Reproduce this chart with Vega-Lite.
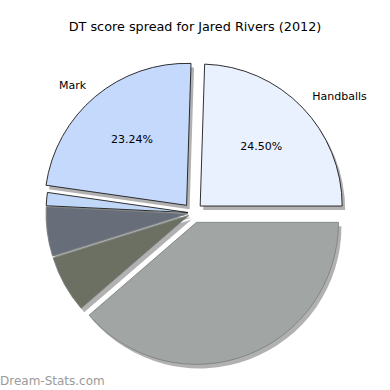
{
  "$schema": "https://vega.github.io/schema/vega-lite/v6.json",
  "padding": {"top": 21, "left": 0, "right": 0, "bottom": 0},
  "spacing": 0,
  "config": {"view": {"stroke": null}, "font": "DejaVu Sans"},
  "title": {"text": "Dream-Stats.com", "orient": "bottom", "anchor": "start", "fontSize": 12, "fontWeight": "normal", "color": "#9a9a9a", "font": "DejaVu Sans", "offset": 2},
  "datasets": {
    "slices": [
      {"cat": "Kicks", "v": 0.3866, "ord": 1},
      {"cat": "Goals", "v": 0.065, "ord": 2},
      {"cat": "Tackles", "v": 0.056, "ord": 3},
      {"cat": "Hitouts", "v": 0.015, "ord": 4},
      {"cat": "Mark", "v": 0.2324, "ord": 5},
      {"cat": "Handballs", "v": 0.245, "ord": 6}
    ]
  },
  "vconcat": [
    {
      "title": {"text": "DT score spread for Jared Rivers (2012)", "fontSize": 12.8, "fontWeight": "normal", "font": "DejaVu Sans", "color": "#000000", "anchor": "middle", "offset": 10},
      "width": 390,
      "height": 321,
      "data": {"name": "slices"},
      "encoding": {
        "theta": {"field": "v", "type": "quantitative", "stack": true, "scale": {"range": [1.5707963, 7.8539816]}},
        "order": {"field": "ord", "type": "quantitative", "sort": "ascending"}
      },
      "layer": [
        {
          "mark": {
            "type": "arc", "radius": 142, "fill": "#444444", "opacity": 0.42,
            "xOffset": {"expr": "1 + (datum.cat=='Handballs'||datum.cat=='Mark'||datum.cat=='Kicks' ? 10 : 5) * sin(PI/2 + PI*(datum.v_start+datum.v_end))"},
            "yOffset": {"expr": "12.5 - (datum.cat=='Handballs'||datum.cat=='Mark'||datum.cat=='Kicks' ? 10 : 5) * cos(PI/2 + PI*(datum.v_start+datum.v_end))"}
          }
        },
        {
          "mark": {
            "type": "arc", "radius": 142, "strokeWidth": 0.9,
            "xOffset": {"expr": "-2 + (datum.cat=='Handballs'||datum.cat=='Mark'||datum.cat=='Kicks' ? 10 : 5) * sin(PI/2 + PI*(datum.v_start+datum.v_end))"},
            "yOffset": {"expr": "8.5 - (datum.cat=='Handballs'||datum.cat=='Mark'||datum.cat=='Kicks' ? 10 : 5) * cos(PI/2 + PI*(datum.v_start+datum.v_end))"}
          },
          "encoding": {
            "color": {"field": "cat", "type": "nominal", "legend": null,
              "scale": {"domain": ["Kicks", "Goals", "Tackles", "Hitouts", "Mark", "Handballs"],
                        "range": ["#a1a6a5", "#6b7063", "#686e79", "#c0d7f8", "#c5d9fc", "#e9f0fe"]}},
            "stroke": {"condition": {"test": "datum.cat == 'Kicks' || datum.cat == 'Goals' || datum.cat == 'Tackles'", "value": "#7d8280"}, "value": "#1a1a1a"}
          }
        },
        {
          "mark": {
            "type": "text", "radius": 156, "fontSize": 11, "font": "DejaVu Sans", "color": "#000000", "baseline": "middle",
            "align": {"expr": "sin(PI/2 + PI*(datum.v_start+datum.v_end)) > 0 ? 'left' : 'right'"},
            "xOffset": {"expr": "-2 + (datum.cat=='Handballs'||datum.cat=='Mark'||datum.cat=='Kicks' ? 10 : 5) * sin(PI/2 + PI*(datum.v_start+datum.v_end))"},
            "yOffset": {"expr": "8.5 - (datum.cat=='Handballs'||datum.cat=='Mark'||datum.cat=='Kicks' ? 10 : 5) * cos(PI/2 + PI*(datum.v_start+datum.v_end))"}
          },
          "encoding": {
            "text": {"condition": {"test": "datum.cat == 'Handballs' || datum.cat == 'Mark'", "field": "cat"}, "value": ""}
          }
        },
        {
          "mark": {
            "type": "text", "radius": 85, "fontSize": 11, "font": "DejaVu Sans", "color": "#000000", "baseline": "middle", "align": "center",
            "xOffset": {"expr": "-2 + (datum.cat=='Handballs'||datum.cat=='Mark'||datum.cat=='Kicks' ? 10 : 5) * sin(PI/2 + PI*(datum.v_start+datum.v_end))"},
            "yOffset": {"expr": "8.5 - (datum.cat=='Handballs'||datum.cat=='Mark'||datum.cat=='Kicks' ? 10 : 5) * cos(PI/2 + PI*(datum.v_start+datum.v_end))"}
          },
          "encoding": {
            "text": {"condition": {"test": "datum.cat == 'Handballs' || datum.cat == 'Mark'", "field": "v", "type": "quantitative", "format": ".2%"}, "value": ""}
          }
        }
      ]
    }
  ]
}
